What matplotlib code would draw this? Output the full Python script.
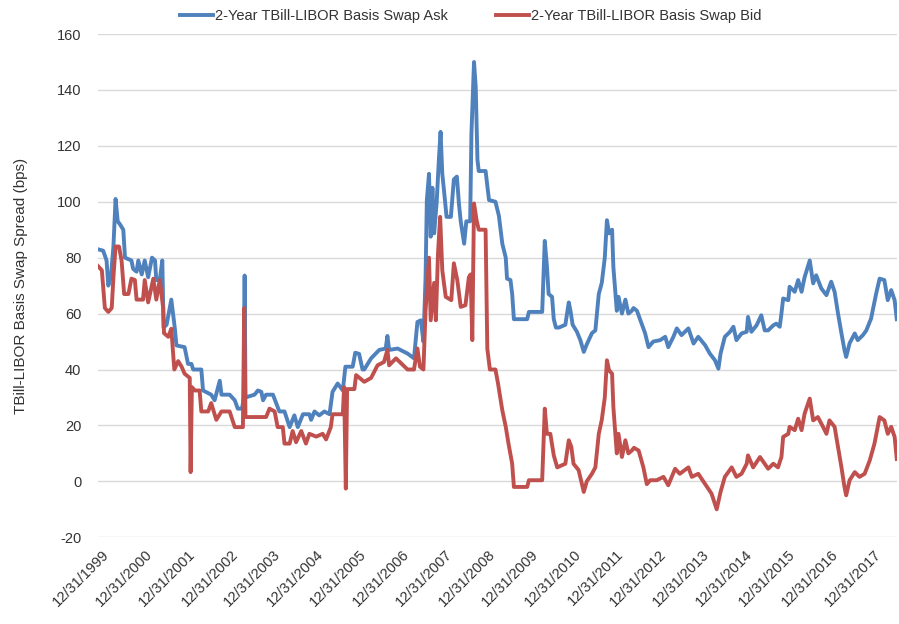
import numpy as np
import pandas as pd
import matplotlib
matplotlib.use("Agg")
import matplotlib.pyplot as plt
import matplotlib.transforms as mtransforms

plt.rcParams["font.family"] = ["Liberation Sans", "DejaVu Sans"]
plt.rcParams["axes.unicode_minus"] = False

# years elapsed since 12/31/1999
ask_t = [0.0, 0.12, 0.20, 0.24, 0.30, 0.36, 0.41, 0.46, 0.51, 0.59, 0.63, 0.78, 0.82, 0.90,
         0.94, 1.02, 1.09, 1.17, 1.26, 1.33, 1.36, 1.44, 1.50, 1.53, 1.60, 1.71, 1.79, 1.83,
         2.02, 2.10, 2.18, 2.22, 2.41, 2.45, 2.64, 2.72, 2.84, 2.88, 3.07, 3.19, 3.26, 3.36,
         3.40, 3.42, 3.44, 3.65, 3.73, 3.81, 3.85, 3.92, 4.08, 4.23, 4.35, 4.47, 4.58, 4.66,
         4.78, 4.93, 4.97, 5.05, 5.16, 5.28, 5.40, 5.47, 5.59, 5.71, 5.77, 5.94, 6.00, 6.09,
         6.17, 6.21, 6.37, 6.56, 6.71, 6.75, 6.79, 6.99, 7.22, 7.37, 7.45, 7.53, 7.59, 7.64,
         7.67, 7.72, 7.76, 7.80, 7.84, 7.90, 7.95, 7.99, 8.03, 8.07, 8.13, 8.23, 8.30, 8.37,
         8.42, 8.46, 8.54, 8.59, 8.68, 8.71, 8.77, 8.81, 8.85, 8.88, 9.04, 9.12, 9.27, 9.35,
         9.43, 9.51, 9.54, 9.62, 9.66, 9.70, 10.01, 10.05, 10.36, 10.42, 10.47, 10.51, 10.59,
         10.63, 10.68, 10.75, 10.90, 10.98, 11.02, 11.07, 11.17, 11.25, 11.33, 11.40, 11.52,
         11.60, 11.68, 11.75, 11.82, 11.87, 11.92, 11.99, 12.02, 12.10, 12.14, 12.22, 12.30,
         12.37, 12.45, 12.49, 12.57, 12.68, 12.76, 12.84, 12.95, 13.11, 13.23, 13.30, 13.42,
         13.50, 13.61, 13.77, 13.89, 14.00, 14.16, 14.27, 14.39, 14.47, 14.52, 14.62, 14.74,
         14.82, 14.89, 15.01, 15.13, 15.16, 15.24, 15.36, 15.47, 15.55, 15.63, 15.75, 15.82,
         15.90, 15.94, 15.98, 16.10, 16.13, 16.25, 16.33, 16.41, 16.48, 16.60, 16.68, 16.75,
         16.87, 16.99, 17.10, 17.18, 17.26, 17.34, 17.41, 17.45, 17.53, 17.65, 17.72, 17.84,
         17.92, 18.03, 18.15, 18.23, 18.34, 18.42, 18.50, 18.58, 18.63]
ask = [83, 82.5, 79, 70, 73, 84, 101, 93, 92, 90, 80, 79, 76, 75,
       79, 74, 79, 73, 80, 79, 72, 72, 79, 55, 56, 65, 55, 48.6,
       48, 42, 42, 40, 40, 32.5, 31, 29, 36, 31, 31, 29, 26, 26,
       30, 73.6, 30, 31, 32.5, 32, 29, 31, 31, 25, 25, 19.4, 23.6, 19.4,
       24, 24, 22, 25, 23.6, 25, 24, 32, 35, 32.5, 41, 41, 46, 45.6,
       40, 40, 44, 47, 47.5, 52, 47, 47.5, 45.7, 44, 57, 57.6, 50, 73,
       100.6, 110, 87.5, 105, 88.7, 100, 115, 125, 110, 104, 94.6, 94.6, 108, 109,
       99, 93, 85, 93, 93, 124.5, 150, 141, 115, 111, 111, 100.6, 100, 95,
       85, 80, 72.5, 72, 67, 58, 58, 60.6, 60.6, 86, 77, 67, 66,
       58, 55, 55, 56, 64, 61, 56, 53.5, 50.5, 46.3, 49, 53,
       54, 67, 71, 80, 93.4, 88.7, 90, 76.7, 61, 66, 60, 65,
       60, 61, 62, 61, 56.4, 53, 48, 50, 50.5, 51.7, 48, 51.7,
       54.7, 52.3, 54.7, 49.3, 51.7, 48.7, 45.7, 43.3, 40.3, 45.7, 51.7, 53.5,
       55.3, 50.5, 52.9, 53.5, 58.8, 53.5, 55.8, 59.4, 54, 54, 55.8, 56.4,
       55.3, 60, 65.4, 64.8, 69.6, 67.8, 72, 67.8, 73, 79, 70.8, 73.7,
       69, 66.6, 71.4, 67.8, 60, 52.9, 47, 44.5, 49.4, 52.9, 50.5, 52.3,
       54, 58.2, 67.2, 72.5, 72, 64.8, 68.4, 64.8, 58]

bid_t = [0.0, 0.09, 0.16, 0.24, 0.32, 0.36, 0.41, 0.49, 0.55, 0.61, 0.71, 0.78, 0.86, 0.90,
         1.05, 1.09, 1.17, 1.29, 1.36, 1.44, 1.52, 1.54, 1.64, 1.71, 1.78, 1.87, 1.95, 2.02,
         2.14, 2.16, 2.19, 2.26, 2.37, 2.41, 2.57, 2.64, 2.76, 2.88, 3.07, 3.19, 3.38, 3.41,
         3.44, 3.92, 4.00, 4.12, 4.19, 4.31, 4.35, 4.47, 4.54, 4.62, 4.74, 4.85, 4.93, 5.09,
         5.24, 5.32, 5.43, 5.47, 5.71, 5.74, 5.78, 5.81, 5.98, 6.02, 6.21, 6.37, 6.52, 6.67,
         6.75, 6.79, 6.95, 7.22, 7.37, 7.45, 7.51, 7.59, 7.64, 7.72, 7.76, 7.84, 7.88, 7.93,
         7.98, 8.03, 8.11, 8.24, 8.30, 8.38, 8.46, 8.57, 8.65, 8.69, 8.73, 8.77, 8.83, 8.88,
         9.04, 9.08, 9.14, 9.27, 9.33, 9.43, 9.51, 9.58, 9.66, 9.70, 10.01, 10.05, 10.36,
         10.42, 10.47, 10.55, 10.63, 10.71, 10.90, 10.98, 11.04, 11.09, 11.21, 11.33, 11.40,
         11.52, 11.60, 11.68, 11.75, 11.82, 11.87, 11.92, 11.99, 12.02, 12.10, 12.14, 12.22,
         12.30, 12.37, 12.45, 12.50, 12.61, 12.72, 12.80, 12.88, 13.03, 13.19, 13.30, 13.46,
         13.57, 13.77, 13.85, 14.00, 14.16, 14.31, 14.43, 14.52, 14.62, 14.78, 14.89, 15.01,
         15.13, 15.16, 15.28, 15.44, 15.55, 15.63, 15.75, 15.86, 15.94, 15.98, 16.10, 16.13,
         16.25, 16.33, 16.41, 16.48, 16.60, 16.68, 16.79, 16.91, 16.99, 17.06, 17.18, 17.26,
         17.34, 17.41, 17.45, 17.53, 17.65, 17.76, 17.88, 18.00, 18.11, 18.23, 18.34, 18.42,
         18.50, 18.58, 18.63]
bid = [77, 75.5, 62, 60.6, 62, 73, 84, 84, 79, 67, 67, 72.5, 72, 65,
       65, 72, 64, 72.5, 65, 72, 62, 53, 51.7, 54.6, 40, 43, 41, 38.5,
       37, 3.3, 33.7, 32.5, 32.5, 25, 25, 28, 22, 25, 25, 19.4, 19.4, 62,
       23, 23, 26, 25, 19.4, 19.4, 13.5, 13.5, 18, 14, 18, 13.5, 17, 16,
       17, 15, 19.4, 24, 24, 33.7, -2.6, 33, 33, 38, 35.6, 37, 41.5, 42.7,
       47, 41.5, 44, 40, 40, 47.5, 41, 40, 61, 80, 57.6, 71, 57.6, 81.5,
       94.6, 75.5, 66, 64.8, 78, 72, 62.4, 63, 73, 74, 50.5, 99.4, 93.4, 90,
       90, 47.5, 40, 40, 35, 25.4, 19.5, 13, 6.3, -2, -2, 0.4, 0.4,
       26, 17, 17, 9.3, 5, 6.3, 14.7, 12.3, 6.3, 4, -3.8, 0,
       2.7, 5, 17, 22, 30, 43.3, 39.7, 38.5, 26.6, 10, 17, 8.7,
       14.7, 10, 11, 12, 11, 5, -1, 0.4, 0.4, 1.6, -1.4, 4.5,
       2.7, 5, 1.6, 2.7, -1, -4.4, -10, -3.8, 1.6, 5, 1.6, 2.7,
       6.3, 9.3, 5, 8.7, 6.3, 4.5, 6.3, 5, 8.7, 15.9, 17, 19.5,
       18.3, 22.4, 18.3, 24.2, 29.6, 21.8, 23, 19.5, 17, 21.8, 19.5, 12.3,
       5, -2, -5, 0.4, 3.3, 1.6, 2.7, 7.5, 13.5, 23, 21.8, 17,
       19.5, 15.9, 8]

tick_years = list(range(1999, 2018))

start = pd.Timestamp("1999-12-31")
ask_dates = start + pd.to_timedelta(np.array(ask_t) * 365.25, unit="D")
bid_dates = start + pd.to_timedelta(np.array(bid_t) * 365.25, unit="D")

fig = plt.figure(figsize=(8.99, 6.24), dpi=100)
ax = fig.add_axes([0.109, 0.139, 0.889, 0.8065])

ax.plot(ask_dates, ask, color="#4F81BD", lw=2.8, label="2-Year TBill-LIBOR Basis Swap Ask")
ax.plot(bid_dates, bid, color="#C0504D", lw=2.8, label="2-Year TBill-LIBOR Basis Swap Bid")

ax.set_ylim(-20, 160)
ax.set_yticks(range(-20, 161, 20))
ax.set_xlim(start, start + pd.Timedelta(days=18.64 * 365.25))
ticks = [pd.Timestamp(f"{y}-12-31") for y in tick_years]
ax.set_xticks(ticks)
ax.set_xticklabels([f"12/31/{y}" for y in tick_years], rotation=45, ha="right",
                   rotation_mode="anchor", fontsize=10.5, color="#333333")
ax.tick_params(axis="y", labelsize=10.5, labelcolor="#333333", length=0, pad=12)
ax.tick_params(axis="x", length=0, pad=7)
# nudge the rotated date labels a little to the right, as in the original
shift = mtransforms.ScaledTranslation(4 / 100, 0, fig.dpi_scale_trans)
for lab in ax.get_xticklabels():
    lab.set_transform(lab.get_transform() + shift)

ax.grid(axis="y", color="#D9D9D9", lw=1)
ax.set_axisbelow(True)
for s in ax.spines.values():
    s.set_visible(False)

ax.set_ylabel("TBill-LIBOR Basis Swap Spread (bps)", fontsize=11, color="#333333", labelpad=21)

ax.legend(loc="upper center", bbox_to_anchor=(0.467, 1.075), ncol=2, frameon=False,
          fontsize=10.5, handlelength=2.2, columnspacing=3.3, handletextpad=0.2,
          labelcolor="#333333")

fig.savefig("out.png", dpi=100)
